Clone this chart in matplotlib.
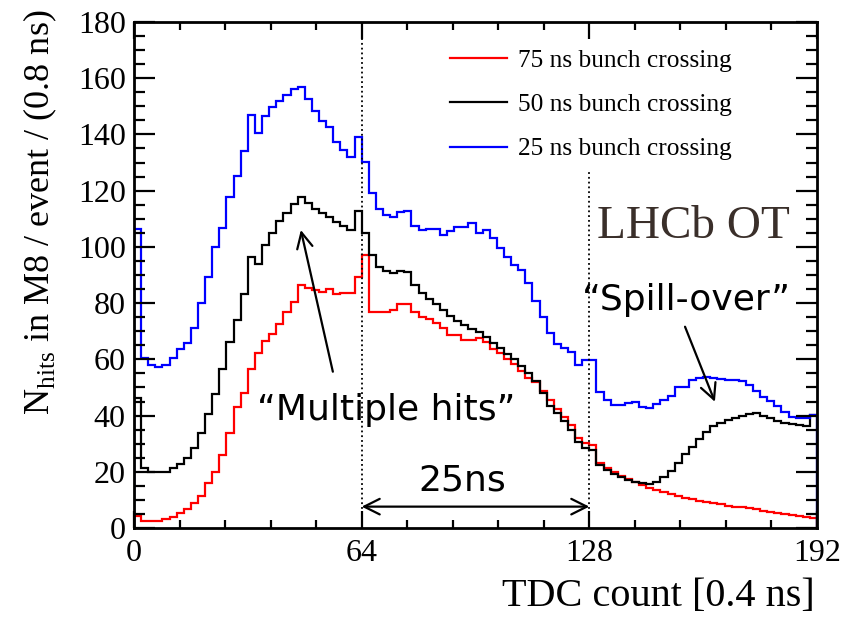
import numpy as np
import matplotlib
matplotlib.use("Agg")
import matplotlib.pyplot as plt
from matplotlib.lines import Line2D
from matplotlib.ticker import MultipleLocator, FixedLocator

plt.rcParams['mathtext.fontset'] = 'custom'
plt.rcParams['mathtext.rm'] = 'Liberation Serif'

# ---- data: 96 bins of 2 TDC counts (0.8 ns) ----
bin_edges = np.arange(0, 194, 2)

hits_75ns = [4.3, 2.6, 2.6, 2.6, 3.2, 4.0, 5.2, 6.6, 8.8, 11.4,
             15.9, 20.0, 26.0, 33.9, 43.2, 48.1, 56.4, 62.1, 66.6, 69.0,
             72.5, 77.0, 80.5, 86.4, 85.3, 84.5, 84.1, 84.9, 83.2, 83.7,
             83.7, 89.2, 97.1, 77.0, 77.0, 77.0, 77.6, 79.7, 79.8, 76.7,
             75.2, 74.3, 73.0, 71.0, 68.7, 68.5, 67.0, 67.0, 67.5, 66.0,
             63.8, 62.1, 60.1, 58.3, 56.0, 53.5, 51.8, 48.8, 45.5, 42.5,
             39.5, 36.5, 32.0, 30.3, 29.5, 23.0, 21.2, 19.8, 18.5, 17.3,
             16.2, 15.2, 14.3, 13.5, 12.8, 12.1, 11.4, 10.8, 10.2, 9.7,
             9.2, 8.8, 8.4, 8.0, 7.6, 7.3, 7.0, 6.6, 6.2, 5.8,
             5.4, 5.0, 4.6, 4.2, 3.8, 3.5]

hits_50ns = [46.4, 21.5, 20.0, 20.0, 20.0, 21.2, 22.8, 24.8, 28.6, 33.7,
             40.4, 47.7, 56.4, 66.3, 74.0, 83.2, 96.3, 93.9, 100.7, 104.8,
             109.2, 111.9, 115.1, 117.9, 115.5, 113.4, 112.2, 110.8, 108.7, 107.4,
             106.0, 112.8, 104.8, 97.1, 92.7, 91.5, 90.8, 91.3, 90.9, 86.6,
             83.5, 81.4, 79.6, 77.7, 75.5, 73.7, 72.2, 70.8, 69.8, 67.8,
             65.7, 63.9, 61.8, 60.1, 57.7, 55.0, 52.3, 47.9, 43.5, 40.8,
             38.2, 34.9, 30.7, 28.5, 27.7, 22.5, 20.5, 19.2, 18.0, 17.2,
             16.5, 16.0, 15.8, 16.5, 18.0, 20.2, 23.0, 26.5, 28.9, 31.5,
             34.3, 36.3, 37.5, 38.4, 39.3, 39.8, 40.4, 40.8, 39.8, 39.0,
             38.2, 37.5, 37.0, 36.5, 36.3, 40.2]

hits_25ns = [106.3, 60.4, 58.0, 57.2, 58.0, 60.4, 63.6, 65.9, 71.0, 79.9,
             89.4, 100.1, 106.8, 117.6, 125.2, 134.1, 146.9, 140.6, 146.7, 149.9,
             152.0, 154.0, 156.2, 156.8, 152.6, 148.3, 144.9, 142.5, 137.4, 134.5,
             132.1, 139.2, 130.3, 119.0, 113.5, 111.5, 110.8, 112.5, 112.8, 107.5,
             106.1, 106.2, 106.2, 104.2, 105.7, 107.2, 106.9, 108.4, 104.8, 105.9,
             103.0, 99.5, 96.5, 93.6, 91.8, 87.0, 80.8, 75.0, 69.5, 65.5,
             64.0, 62.5, 58.0, 59.8, 59.8, 48.5, 45.5, 43.8, 43.8, 44.3,
             44.7, 43.2, 42.6, 44.1, 45.5, 47.0, 50.0, 50.3, 52.7, 53.2,
             53.8, 53.2, 52.9, 52.7, 52.7, 52.4, 50.9, 48.9, 46.7, 45.3,
             43.4, 41.4, 39.6, 39.0, 39.0, 40.2]

series_labels = ["75 ns bunch crossing", "50 ns bunch crossing", "25 ns bunch crossing"]
series_colors = ["#ff0000", "#000000", "#0000ff"]
x_major_ticks = [0, 64, 128, 192]

# ---- figure ----
fig = plt.figure(figsize=(8.56, 6.17), dpi=100)
ax = fig.add_axes([134/856, 1-528/617, (817-134)/856, (528-22)/617])

for vals, col in zip([hits_75ns, hits_50ns, hits_25ns], series_colors):
    ax.stairs(vals, bin_edges, color=col, lw=1.6, baseline=0)

ax.set_xlim(0, 192)
ax.set_ylim(0, 180)

serif = 'Liberation Serif'
ax.xaxis.set_major_locator(FixedLocator(x_major_ticks))
ax.xaxis.set_minor_locator(MultipleLocator(12.8))
ax.yaxis.set_major_locator(MultipleLocator(20))
ax.yaxis.set_minor_locator(MultipleLocator(5))
ax.tick_params(which='both', direction='in', top=True, right=True, width=1.6)
ax.tick_params(axis='x', which='major', length=12, pad=8)
ax.tick_params(axis='x', which='minor', length=6)
ax.tick_params(axis='y', which='major', length=15, pad=6)
ax.tick_params(axis='y', which='minor', length=8)
for lab in ax.get_xticklabels() + ax.get_yticklabels():
    lab.set_fontfamily(serif)
    lab.set_fontsize(23)
for sp in ax.spines.values():
    sp.set_linewidth(2.0)

# axis titles
ax.text(-0.1376, 1.024, r"N$_{\mathregular{hits}}$ in M8 / event / (0.8 ns)",
        transform=ax.transAxes, rotation=90, ha='center', va='top',
        fontfamily=serif, fontsize=26)
ax.text(0.997, -0.136, "TDC count [0.4 ns]", transform=ax.transAxes,
        ha='right', va='center', fontfamily=serif, fontsize=29)

# vertical dotted lines
ax.plot([64, 64], [0, 180], ls=':', color='black', lw=1.3)
ax.plot([128, 128], [0, 126.5], ls=':', color='black', lw=1.3)

# legend
handles = [Line2D([], [], color=c, lw=1.6) for c in series_colors]
ax.legend(handles, series_labels, loc='upper left', bbox_to_anchor=(0.4627, 0.946),
          frameon=False, borderpad=0, borderaxespad=0, handlelength=2.25,
          handletextpad=0.42, labelspacing=0.84,
          prop={'family': serif, 'size': 18.3})

ax.text(157.2, 103.2, "LHCb OT", ha='center', va='baseline', fontfamily=serif,
        fontsize=34, color='#3a2f2a')

sans = 'DejaVu Sans'
ax.text(70.8, 38.4, "\u201cMultiple hits\u201d", ha='center', va='baseline',
        fontfamily=sans, fontsize=26)
ax.text(155.3, 77.6, "\u201cSpill-over\u201d", ha='center', va='baseline',
        fontfamily=sans, fontsize=26)
ax.text(92.2, 13.5, "25ns", ha='center', va='baseline', fontfamily=sans, fontsize=26)

ax.annotate("", xy=(46.9, 106.0), xytext=(55.9, 55.6),
            arrowprops=dict(arrowstyle='->', lw=1.6, color='black',
                            mutation_scale=28, shrinkA=0, shrinkB=0))
ax.annotate("", xy=(163.3, 44.9), xytext=(154.9, 71.6),
            arrowprops=dict(arrowstyle='->', lw=1.6, color='black',
                            mutation_scale=28, shrinkA=0, shrinkB=0))
ax.annotate("", xy=(64, 7.6), xytext=(128, 7.6),
            arrowprops=dict(arrowstyle='<->', lw=1.6, color='black',
                            mutation_scale=28, shrinkA=0, shrinkB=0))

fig.savefig("out.png", dpi=100)
